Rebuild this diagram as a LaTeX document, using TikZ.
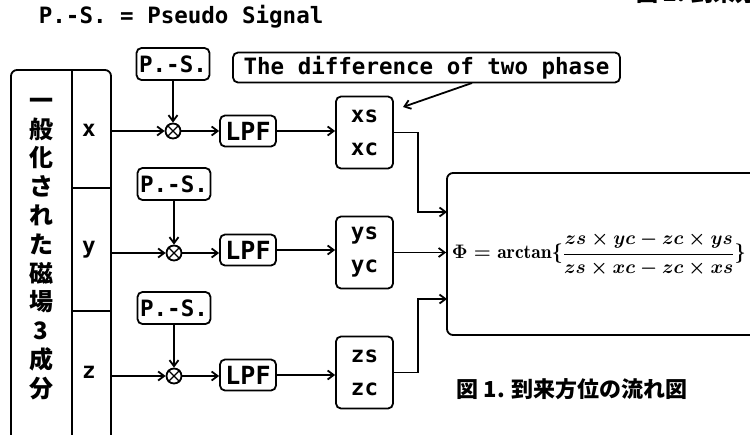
\RequirePackage{fix-cm}
\documentclass[tikz,border=0pt]{standalone}
\usepackage{fontspec}
\setmonofont{DejaVu Sans Mono}
\newfontfamily\cjk{Noto Sans CJK JP}
\usetikzlibrary{arrows.meta,calc}
\newcommand\myformula{{\fontsize{19.5}{23}\selectfont\boldmath$\Phi\mathrel{=}\mathrm{arctan}\lbrace$}{\fontsize{19.2}{23}\selectfont\boldmath$\displaystyle\frac{zs\times yc-zc\times ys}{zs\times xc-zc\times xs}$}{\fontsize{19.5}{23}\selectfont\boldmath$\rbrace$}}
\begin{document}
\begin{tikzpicture}[x=1pt,y=-1pt,line width=1.8pt,
  >={Straight Barb[length=6pt,width=9pt]},
  box/.style={draw,rounded corners=5pt,inner sep=0pt},
  tt/.style={font=\ttfamily\bfseries\fontsize{22.5}{26}\selectfont,inner sep=0pt},
  sc/.style={box,align=center,font=\ttfamily\bfseries\fontsize{22.5}{33}\selectfont,minimum width=57pt,minimum height=72pt},
  psbox/.style={box,tt,minimum width=73pt,minimum height=32pt},
  lpf/.style={box,tt,font=\ttfamily\bfseries\fontsize{25}{28}\selectfont,minimum width=56pt,minimum height=31pt},
  mult/.style={draw,circle,minimum size=15pt,inner sep=0pt},
  mathtxt/.style={inner sep=0pt},
  jp/.style={font=\cjk\bfseries\fontsize{22}{26}\selectfont,inner sep=0pt}]
\useasboundingbox (0,0) rectangle (750,434);

% titles
\node[tt,anchor=west] (title) at (38,17) {P.-S. = Pseudo Signal};
\node[jp,anchor=base west] (cap2) at (636,1) {図 2. 到来方位の流れ図};
\node[box,tt,minimum width=387pt,minimum height=30pt] (diff) at (426.5,67.5) {The difference of two phase};

% left frame
\draw[rounded corners=6pt] (11,440) -- (11,70) -- (111,70) -- (111,440);
\draw (72,70) -- (72,440);
\draw (72,188) -- (111,188) (72,311) -- (111,311);
\node[align=center,inner sep=0pt,font=\cjk\bfseries\fontsize{24}{28.8}\selectfont] (gen) at (41,249) {一\\般\\化\\さ\\れ\\た\\磁\\場\\3\\成\\分};
\node[tt] (lx) at (89,130) {x};
\node[tt] (ly) at (89,250) {y};
\node[tt] (lz) at (89,372) {z};
\coordinate (ix) at (111,131);
\coordinate (iy) at (111,253);
\coordinate (iz) at (111,376);

% pseudo signals
\node[psbox] (ps1) at (173,64) {P.-S.};
\node[psbox] (ps2) at (174,184) {P.-S.};
\node[psbox] (ps3) at (174,308) {P.-S.};

% multipliers
\node[mult] (m1) at (173,131) {};
\node[mult] (m2) at (174,253) {};
\node[mult] (m3) at (174,376) {};
\foreach \m in {m1,m2,m3}{
  \draw[line width=1.3pt] (\m.45) -- (\m.225) (\m.135) -- (\m.315);
}

% LPF
\node[lpf] (l1) at (248,131) {LPF};
\node[lpf] (l2) at (248,250) {LPF};
\node[lpf] (l3) at (248,375) {LPF};

% s/c boxes
\node[sc] (b1) at (364.5,132.5) {xs\\xc};
\node[sc] (b2) at (364.5,252.5) {ys\\yc};
\node[sc] (b3) at (364.5,372.5) {zs\\zc};

% result box
\node[box,rounded corners=6pt,minimum width=330pt,minimum height=162pt] (phi) at (612,254) {};
\node[mathtxt,anchor=west] (formula) at (451,254) {\myformula};
\coordinate (t1) at (447,212);
\coordinate (t3) at (447,299);

\node[jp,anchor=west] (cap) at (456,389) {図 1. 到来方位の流れ図};

% connectors
\draw[->] (ix) -- (m1);
\draw[->] (iy) -- (m2);
\draw[->] (iz) -- (m3);
\draw[->] (ps1) -- (m1);
\draw[->] (ps2) -- (m2);
\draw[->] (ps3) -- (m3);
\draw[->] (m1) -- (m1 -| l1.west);
\draw[->] (m2) -- (m2 -| l2.west);
\draw[->] (m3) -- (m3 -| l3.west);
\draw[->] (l1.east) -- (l1.east -| b1.west);
\draw[->] (l2.east) -- (l2.east -| b2.west);
\draw[->] (l3.east) -- (l3.east -| b3.west);
\draw[->] (b1.east) -- ++(24,0) |- (t1);
\draw[->] (b2.east) -- (b2.east -| phi.west);
\draw[->] (b3.east) -- ++(24,0) |- (t3);
\coordinate (ds) at (472,83);
\coordinate (dt) at (403,107);
\draw[->] (ds) -- (dt);
\end{tikzpicture}
\end{document}
